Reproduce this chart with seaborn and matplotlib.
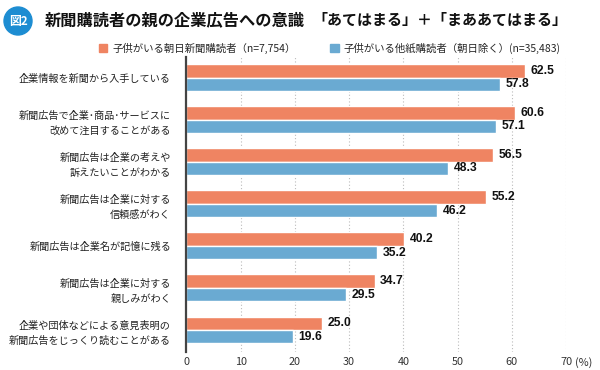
import matplotlib
matplotlib.use("Agg")
import matplotlib.pyplot as plt
from matplotlib.patches import Circle
import pandas as pd
import seaborn as sns

items = [
    "企業情報を新聞から入手している",
    "新聞広告で企業･商品･サービスに\n改めて注目することがある",
    "新聞広告は企業の考えや\n訴えたいことがわかる",
    "新聞広告は企業に対する\n信頼感がわく",
    "新聞広告は企業名が記憶に残る",
    "新聞広告は企業に対する\n親しみがわく",
    "企業や団体などによる意見表明の\n新聞広告をじっくり読むことがある",
]
asahi = [62.5, 60.6, 56.5, 55.2, 40.2, 34.7, 25.0]
others = [57.8, 57.1, 48.3, 46.2, 35.2, 29.5, 19.6]
series = ["子供がいる朝日新聞購読者（n=7,754）", "子供がいる他紙購読者（朝日除く）(n=35,483)"]
x_ticks = [0, 10, 20, 30, 40, 50, 60, 70]
colors = ["#EF8462", "#6AAAD2"]

df = pd.DataFrame({
    "item": items * 2,
    "value": asahi + others,
    "group": [series[0]] * len(items) + [series[1]] * len(items),
})

sns.set_style("white")
plt.rcParams["font.family"] = ["Noto Sans CJK JP", "DejaVu Sans"]

fig = plt.figure(figsize=(6, 3.7), dpi=100)
ax = fig.add_axes([0.3105, 0.049, 0.633, 0.797])

sns.barplot(data=df, y="item", x="value", hue="group", orient="h",
            palette=colors, saturation=1, width=0.64, ax=ax, legend=False)

for c in ax.containers:
    ax.bar_label(c, fmt="%.1f", padding=4, fontsize=8.7, fontweight="bold",
                 family=["Liberation Sans", "DejaVu Sans"], color="#111111")

ax.set_xlim(0, 70)
ax.set_ylim(len(items) - 0.48, -0.49)
ax.set_xticks(x_ticks)
ax.set_xticklabels([str(t) for t in x_ticks], fontsize=7.8, color="#333333")
ax.annotate("(%)", xy=(70, 0), xycoords=ax.get_xaxis_transform(),
            xytext=(6.5, -4), textcoords="offset points", fontsize=7.8,
            color="#333333", va="top", ha="left")
ax.tick_params(axis="x", length=0, pad=4)
ax.tick_params(axis="y", length=0, pad=11)
for lab in ax.get_yticklabels():
    lab.set_fontsize(7.3)
    lab.set_linespacing(1.6)
    lab.set_color("#222222")
ax.set_xlabel("")
ax.set_ylabel("")

for t in x_ticks[1:]:
    ax.axvline(t, color="#BBBBBB", linestyle=(0, (1, 2)), linewidth=0.8, zorder=0)
for s in ["top", "right", "bottom"]:
    ax.spines[s].set_visible(False)
ax.spines["left"].set_color("#444444")
ax.spines["left"].set_linewidth(1.6)

# badge and title
badge = Circle((0.18, 3.7 - 0.21), 0.14, transform=fig.dpi_scale_trans,
               color="#1D8DD2", zorder=5)
fig.patches.append(badge)
fig.text(18 / 600, 1 - 21 / 370, "図2", color="white", fontsize=8.5,
         fontweight="bold", ha="center", va="center", zorder=6)
fig.text(45 / 600, 1 - 20 / 370, "新聞購読者の親の企業広告への意識", fontsize=11.7,
         fontweight="bold", ha="left", va="center", color="#111111")
fig.text(312 / 600, 1 - 20 / 370, "「あてはまる」＋「まああてはまる」", fontsize=10.8,
         fontweight="bold", ha="left", va="center", color="#111111")

# legend
handles = [plt.Rectangle((0, 0), 1, 1, color=c) for c in colors]
fig.legend(handles, series, loc="center left", bbox_to_anchor=(99 / 600, 1 - 48 / 370),
           ncol=2, frameon=False, fontsize=7.5, handlelength=0.8, handleheight=0.8,
           handletextpad=0.5, columnspacing=3.3, borderaxespad=0, borderpad=0)

fig.savefig("out.png", dpi=100)
